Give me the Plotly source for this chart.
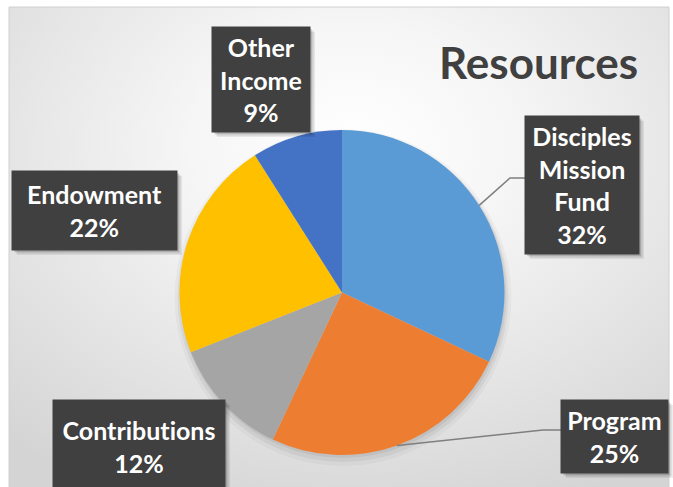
import base64
import math
import plotly.graph_objects as go

# ---- data ----
categories = ["Disciples Mission Fund", "Program", "Contributions", "Endowment", "Other Income"]
values = [32, 25, 12, 22, 9]
colors = ["#5B9BD5", "#ED7D31", "#A5A5A5", "#FFC000", "#4472C4"]
title_text = "Resources"

# ---- geometry (pixels) ----
W, H = 673, 487
CX, CY, R = 342, 292.5, 162.5


def px(x):
    return x / W


def py(y):
    return 1 - y / H


# label boxes: center x, center y, width, height (pixels)
boxes = [
    (582, 185, 114, 138),
    (614.5, 436.5, 107, 73),
    (139, 446.5, 172, 93),
    (94.5, 210.5, 165, 79),
    (261, 79.5, 98, 105),
]
# leader elbows for labels that have them (index: [(x,y),...])
leaders = {
    0: [(510, 178), (525, 178)],
    1: [(543, 430), (561, 430)],
}

fig = go.Figure()
fig.add_trace(go.Pie(
    labels=categories,
    values=values,
    marker=dict(colors=colors, line=dict(width=0)),
    sort=False,
    direction="clockwise",
    rotation=0,
    textinfo="none",
    hoverinfo="label+percent",
    showlegend=False,
    domain=dict(x=[px(CX - R), px(CX + R)], y=[py(CY + R), py(CY - R)]),
))

# background gradient via SVG image
svg = (
    "<svg xmlns='http://www.w3.org/2000/svg' width='660' height='490' viewBox='0 0 660 490' "
    "preserveAspectRatio='none'><defs><radialGradient id='g' cx='0.52' cy='0.28' r='0.8'>"
    "<stop offset='0' stop-color='#ffffff'/><stop offset='0.3' stop-color='#f6f6f6'/>"
    "<stop offset='1' stop-color='#d4d4d4'/></radialGradient></defs>"
    "<rect width='660' height='490' fill='url(#g)'/></svg>"
)
src = "data:image/svg+xml;base64," + base64.b64encode(svg.encode()).decode()
fig.add_layout_image(dict(
    source=src, xref="paper", yref="paper", x=px(9), y=py(7),
    sizex=px(660), sizey=490 / H, sizing="stretch", xanchor="left", yanchor="top",
    layer="below",
))

shapes = []
# frame
shapes.append(dict(type="rect", xref="paper", yref="paper", x0=px(9), x1=px(669),
                   y0=py(7), y1=py(495), line=dict(color="#d0d0d0", width=1),
                   fillcolor="rgba(0,0,0,0)", layer="below"))
# soft pie shadow
for dr, dy, a in [(6, 5, 0.03), (3, 4, 0.05), (1, 2, 0.06)]:
    shapes.append(dict(type="circle", xref="paper", yref="paper",
                       x0=px(CX - R - dr + 1), x1=px(CX + R + dr + 1),
                       y0=py(CY + R + dr + dy), y1=py(CY - R - dr + dy),
                       fillcolor=f"rgba(0,0,0,{a})", line=dict(width=0), layer="below"))

# leader lines from slice midpoints
total = sum(values)
cum = 0
for i, v in enumerate(values):
    mid = (cum + v / 2) / total
    cum += v
    if i in leaders:
        ang = 2 * math.pi * mid
        sx = CX + R * math.sin(ang)
        sy = CY - R * math.cos(ang)
        pts = [(sx, sy)] + leaders[i]
        path = "M " + " L ".join(f"{px(x)},{py(y)}" for x, y in pts)
        shapes.append(dict(type="path", xref="paper", yref="paper", path=path,
                           line=dict(color="#7f7f7f", width=1.5), layer="above"))

# box shadows (soft, offset down-right)
for (bx, by, bw, bh) in boxes:
    for off, a in [(5, 0.07), (3.5, 0.10), (2, 0.12)]:
        shapes.append(dict(type="rect", xref="paper", yref="paper",
                           x0=px(bx - bw / 2 + off), x1=px(bx + bw / 2 + off),
                           y0=py(by + bh / 2 + off), y1=py(by - bh / 2 + off),
                           fillcolor=f"rgba(0,0,0,{a})", line=dict(width=0), layer="above"))

annotations = []
font_family = "Lato, Roboto, sans-serif"
for i, (cat, v) in enumerate(zip(categories, values)):
    bx, by, bw, bh = boxes[i]
    text = cat.replace(" ", "<br>") + "<br>" + f"{v}%"
    annotations.append(dict(
        x=px(bx), y=py(by), xref="paper", yref="paper", text=text,
        showarrow=False, width=bw, height=bh, borderpad=0,
        bgcolor="#404040", font=dict(color="#ffffff", size=25, family=font_family, weight="bold"),
        xanchor="center", yanchor="middle", align="center", valign="middle",
    ))

annotations.append(dict(
    x=px(538), y=py(62), xref="paper", yref="paper", text=title_text, showarrow=False,
    font=dict(color="#404040", size=44, family=font_family, weight="bold"),
    xanchor="center", yanchor="middle",
))

fig.update_layout(
    width=W, height=H,
    margin=dict(l=0, r=0, t=0, b=0),
    paper_bgcolor="#ffffff",
    plot_bgcolor="#ffffff",
    shapes=shapes,
    annotations=annotations,
)

post = (
    "document.body.style.margin='0';document.body.style.overflow='hidden';"
    "document.querySelectorAll('text').forEach(function(t){t.style.fontVariantLigatures='none';"
    "t.style.fontFeatureSettings='\"liga\" 0';});"
)
fig.write_html("out.html", post_script=post, config={"displayModeBar": False})
